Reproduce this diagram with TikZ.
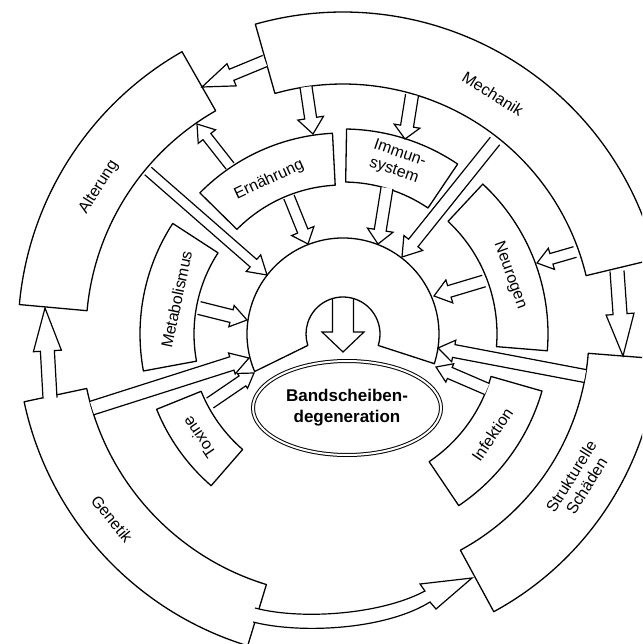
\documentclass[tikz,border=0pt]{standalone}
\usepackage{fontspec}
\setmainfont{Liberation Sans}
\usetikzlibrary{calc,shapes.geometric}
\newcommand\ringbox[4]{% start angle, end angle, inner r, outer r
  \filldraw[box] ($(C)+(#1:#4)$) arc[start angle=#1,end angle=#2,radius=#4]
    -- ($(C)+(#2:#3)$) arc[start angle=#2,end angle=#1,radius=#3] -- cycle;}
\newcommand\harrow[5]{% from, tip, shaft half width, head half width, head length
  \path ($(#2)!#5!(#1)$) coordinate (hb);
  \filldraw[arr] ($(#1)!#3!90:(#2)$) -- ($(hb)!#3!90:(#2)$) -- ($(hb)!#4!90:(#2)$)
    -- (#2) -- ($(hb)!#4!-90:(#2)$) -- ($(hb)!#3!-90:(#2)$) -- ($(#1)!#3!-90:(#2)$);}
\begin{document}
\begin{tikzpicture}[x=1pt,y=-1pt,
  box/.style={draw=black, fill=white, line width=1.3pt, line join=round},
  arr/.style={draw=black, fill=white, line width=1.2pt, line join=miter},
  lbl/.style={font=\fontsize{16}{18}\selectfont, inner sep=0pt, align=center}]
\useasboundingbox (0,0) rectangle (642,644);
\clip (0,0) rectangle (642,644);
\coordinate (C) at (343,334);

% outer ring
\ringbox{-105.8}{-13.5}{250}{322}  % Mechanik
\ringbox{-174.8}{-119.7}{257}{325} % Alterung
\ringbox{107}{168}{262}{326}       % Genetik
\ringbox{4.5}{61.5}{246}{316}      % Strukturelle Schaeden
% middle ring
\ringbox{-135.4}{-93}{149}{201}    % Ernaehrung
\ringbox{-89}{-56}{152}{205}       % Immunsystem
\ringbox{-47}{4.7}{154}{205}       % Neurogen
\ringbox{169.5}{213}{149}{203}     % Metabolismus
\ringbox{131}{158}{153}{201}       % Toxine
\ringbox{16}{56}{154}{207}         % Infektion

% central hood
\filldraw[box] ($(C)+(157:96)$) arc[start angle=157,end angle=378,radius=96]
  -- ($(C)+(18:37)$) arc[start angle=18,end angle=-198,radius=37] -- cycle;
\coordinate (hoodtop) at (343,299);
\coordinate (hoodtip) at (343,352);
\harrow{hoodtop}{hoodtip}{10.5pt}{21pt}{20pt}

% ellipse
\node[ellipse, draw, double, double distance=2pt, line width=1pt, fill=white,
  minimum width=188pt, minimum height=94pt, inner sep=0pt, align=center,
  font=\bfseries\fontsize{17}{21}\selectfont] (bd) at (347,408) {Bandscheiben-\\degeneration};

% labels
\node[lbl, rotate=-32] (mech) at ($(C)+(-58:283)$) {Mechanik};
\node[lbl, rotate=58] (alt) at ($(C)+(-149:285)$) {Alterung};
\node[lbl, rotate=-51] (gen) at ($(C)+(141.3:296)$) {Genetik};
\node[lbl, rotate=58] (struk) at ($(C)+(32:278)$) {Strukturelle\\Schäden};
\node[lbl, rotate=25] (ern) at ($(C)+(-115.6:171)$) {Ernährung};
\node[lbl, rotate=-19] (imm) at ($(C)+(-72.6:180)$) {Immun-\\system};
\node[lbl, rotate=-70] (neu) at ($(C)+(-19.4:177)$) {Neurogen};
\node[lbl, rotate=78] (met) at ($(C)+(-168.3:170)$) {Metabolismus};
\node[lbl, rotate=124] (tox) at ($(C)+(144.4:177)$) {Toxine};
\node[lbl, rotate=56] (inf) at ($(C)+(34:180)$) {Infektion};

% arrow end points
\coordinate (a1s) at (265,61);  \coordinate (a1t) at (202,87);
\coordinate (a2s) at (306,87);  \coordinate (a2t) at (313,134);
\coordinate (a3s) at (412,95);  \coordinate (a3t) at (405,139);
\coordinate (a4s) at (230,166); \coordinate (a4t) at (197,124);
\coordinate (a5s) at (148,171); \coordinate (a5t) at (267,275);
\coordinate (a6s) at (289,197); \coordinate (a6t) at (308,244);
\coordinate (a7s) at (387,188); \coordinate (a7t) at (378,244);
\coordinate (a8s) at (495,141); \coordinate (a8t) at (402,257);
\coordinate (a9s) at (575,252); \coordinate (a9t) at (537,263);
\coordinate (a10s) at (484,281); \coordinate (a10t) at (434,296);
\coordinate (a11s) at (617,271); \coordinate (a11t) at (623,356);
\coordinate (a12s) at (585,376); \coordinate (a12t) at (438,348);
\coordinate (a13s) at (487,389); \coordinate (a13t) at (436,367);
\coordinate (a14s) at (199,308); \coordinate (a14t) at (247,320);
\coordinate (a15s) at (92,408);  \coordinate (a15t) at (249,358);
\coordinate (a16s) at (210,403); \coordinate (a16t) at (254,373);
\coordinate (a17s) at (50,398);  \coordinate (a17t) at (45,308);

\harrow{a1s}{a1t}{6pt}{12pt}{32pt}
\harrow{a2s}{a2t}{6pt}{13pt}{16pt}
\harrow{a3s}{a3t}{6.5pt}{13pt}{13pt}
\harrow{a4s}{a4t}{5pt}{11pt}{16pt}
\harrow{a5s}{a5t}{5pt}{11pt}{18pt}
\harrow{a6s}{a6t}{5.5pt}{12pt}{14pt}
\harrow{a7s}{a7t}{6pt}{13pt}{14pt}
\harrow{a8s}{a8t}{6pt}{12pt}{18pt}
\harrow{a9s}{a9t}{5.5pt}{11pt}{15pt}
\harrow{a10s}{a10t}{6pt}{12pt}{16pt}
\harrow{a11s}{a11t}{7pt}{14pt}{42pt}
\harrow{a12s}{a12t}{6.5pt}{11pt}{16pt}
\harrow{a13s}{a13t}{6pt}{10pt}{15pt}
\harrow{a14s}{a14t}{6.5pt}{11pt}{16pt}
\harrow{a15s}{a15t}{7pt}{11pt}{18pt}
\harrow{a16s}{a16t}{6pt}{9pt}{14pt}
\harrow{a17s}{a17t}{7pt}{14pt}{43pt}

% curved arrow Genetik -> Strukturelle Schaeden
\coordinate (g1) at (253,622); \coordinate (g2) at (255,608); \coordinate (gt) at (472,578);
\filldraw[arr] (g1) .. controls (300,634) and (385,630) .. (430,602) -- (436,609)
  -- (gt) -- (420,584) -- (425,591) .. controls (380,615) and (300,620) .. (g2);
\end{tikzpicture}
\end{document}
